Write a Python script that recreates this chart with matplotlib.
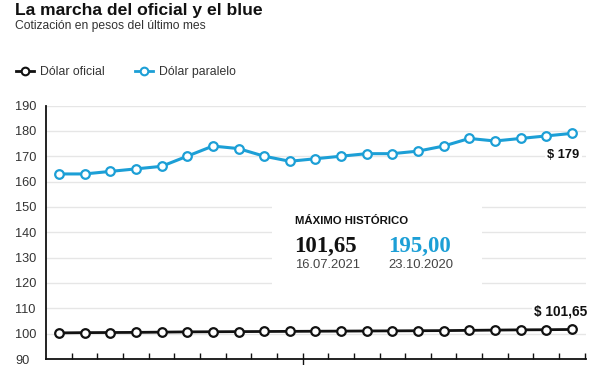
import matplotlib
matplotlib.use("Agg")
import matplotlib.pyplot as plt
from matplotlib.patches import Rectangle
from matplotlib.lines import Line2D
import matplotlib.transforms as mtransforms

plt.rcParams['font.family'] = ['Liberation Sans', 'DejaVu Sans']

# ---- data ----
paralelo = [163, 163, 164, 165, 166, 170, 174, 173, 170, 168, 169, 170, 171,
            171, 172, 174, 177, 176, 177, 178, 179]
oficial = [100.3, 100.4, 100.45, 100.5, 100.6, 100.7, 100.75, 100.8, 100.85,
           100.9, 100.95, 101.0, 101.05, 101.1, 101.15, 101.2, 101.3, 101.4,
           101.5, 101.55, 101.65]
yticks = [90, 100, 110, 120, 130, 140, 150, 160, 170, 180, 190]
series_names = ["Dólar oficial", "Dólar paralelo"]
title = "La marcha del oficial y el blue"
subtitle = "Cotización en pesos del último mes"
max_header = "MÁXIMO HISTÓRICO"
max_oficial = "101,65"
max_oficial_date = "16.07.2021"
max_paralelo = "195,00"
max_paralelo_date = "23.10.2020"
label_paralelo = "$ 179"
label_oficial = "$ 101,65"

BLUE = "#1c9fd6"
BLACK = "#111111"
GRID = "#e6e6e6"

W, H = 600, 365
fig = plt.figure(figsize=(W / 100, H / 100), dpi=100)
ax = fig.add_axes([46 / W, 1 - 359 / H, (586 - 46) / W, (359 - 105.5) / H])

x = list(range(len(paralelo)))
ax.set_xlim(-0.507, 20.55)
ax.set_ylim(90, 190)

# gridlines
for v in yticks[1:]:
    ax.axhline(v, color=GRID, lw=1.0, zorder=0)
# gap in gridlines behind the annotation
ax.add_patch(Rectangle((8.3, 115), 16.5 - 8.3, 40, facecolor="white",
                       edgecolor="none", zorder=0.5))

ax.plot(x, paralelo, color=BLUE, lw=2.2, marker="o", ms=6.2,
        mfc="white", mec=BLUE, mew=1.6, zorder=3, clip_on=False)
ax.plot(x, oficial, color=BLACK, lw=2.0, marker="o", ms=6.2,
        mfc="white", mec=BLACK, mew=1.6, zorder=3, clip_on=False)

# spines
for s in ["top", "right"]:
    ax.spines[s].set_visible(False)
ax.spines["left"].set_color(BLACK)
ax.spines["bottom"].set_color(BLACK)
ax.spines["left"].set_linewidth(1.3)
ax.spines["bottom"].set_linewidth(1.3)

# y ticks
ax.set_yticks(yticks)
ax.set_yticklabels([str(v) for v in yticks], fontsize=9.2, color="#333333")
ax.tick_params(axis="y", length=0, pad=22)
for lbl in ax.get_yticklabels():
    lbl.set_horizontalalignment("left")

# x ticks (between points, pointing inward)
ax.set_xticks([i + 0.5 for i in x])
ax.set_xticklabels([])
ax.tick_params(axis="x", direction="in", length=4.5, width=1.0, color=BLACK)
trans = mtransforms.blended_transform_factory(ax.transData, ax.transAxes)
ax.plot([9.5, 9.5], [-0.025, 0.0], color=BLACK, lw=1.0, transform=trans,
        clip_on=False)

# end labels
ax.text(20.3, 170.5, label_paralelo, ha="right", va="center", fontsize=9.3,
        fontweight="bold", color=BLACK, zorder=4,
        bbox=dict(facecolor="white", edgecolor="none", pad=1.5))
ax.text(20.6, 108.8, label_oficial, ha="right", va="center", fontsize=9.8,
        fontweight="bold", color=BLACK, zorder=4,
        bbox=dict(facecolor="white", edgecolor="none", pad=1.5))

# maximo historico annotation
fig.text(295 / W, 1 - 221.5 / H, max_header, fontsize=8.2, fontweight="bold",
         ha="left", va="center", color=BLACK)
fig.text(294 / W, 1 - 246 / H, max_oficial, fontsize=16.5, fontweight="bold",
         family="Liberation Serif", ha="left", va="center", color=BLACK)
fig.text(388 / W, 1 - 246 / H, max_paralelo, fontsize=16.5, fontweight="bold",
         family="Liberation Serif", ha="left", va="center", color=BLUE)
fig.text(295 / W, 1 - 265.5 / H, max_oficial_date, fontsize=9.4, ha="left",
         va="center", color="#444444")
fig.text(388 / W, 1 - 265.5 / H, max_paralelo_date, fontsize=9.4, ha="left",
         va="center", color="#444444")

# title
fig.text(15 / W, 1 - 10.5 / H, title, fontsize=12.6, fontweight="bold",
         ha="left", va="center", color=BLACK)
fig.text(15 / W, 1 - 26.5 / H, subtitle, fontsize=8.7, ha="left", va="center",
         color="#333333")

# legend
handles = [
    Line2D([], [], color=BLACK, lw=2.0, marker="o", ms=5.5, mfc="white",
           mec=BLACK, mew=1.5),
    Line2D([], [], color=BLUE, lw=2.0, marker="o", ms=5.5, mfc="white",
           mec=BLUE, mew=1.5),
]
fig.legend(handles, series_names, loc="center left",
           bbox_to_anchor=(5 / W, 1 - 72 / H), ncol=2, frameon=False,
           fontsize=8.8, handlelength=1.45, handletextpad=0.5,
           columnspacing=2.5, labelcolor="#333333")

fig.savefig("out.png", dpi=100, facecolor="white")
